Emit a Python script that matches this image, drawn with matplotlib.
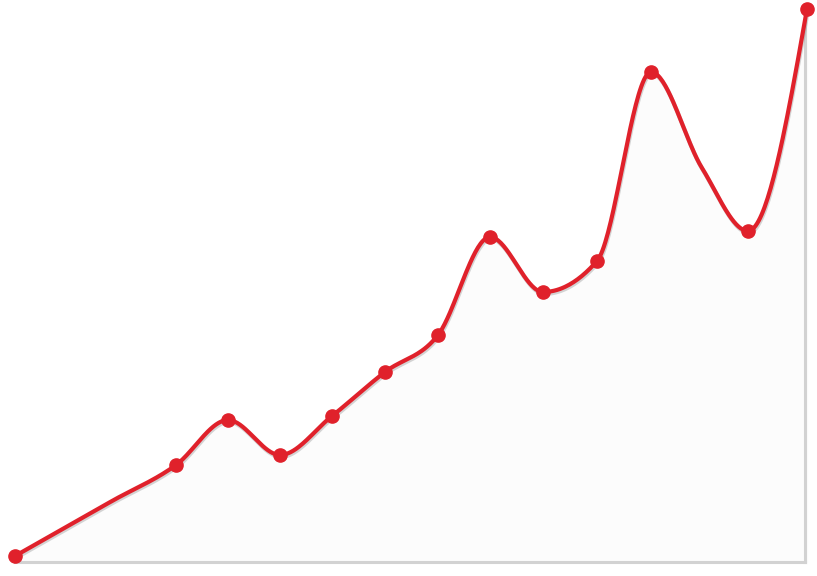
import numpy as np
import matplotlib
matplotlib.use('Agg')
import matplotlib.pyplot as plt
import matplotlib.patheffects as pe

# positions along the x axis and values (baseline = 0)
xs = [15, 112, 176, 228, 280, 332, 385, 438, 490, 543, 597, 651, 702, 748, 807]
vals = [6, 61, 97, 142, 107, 146, 190, 227, 325, 270, 301, 490, 394, 331, 553]
has_marker = [True, False, True, True, True, True, True, True, True, True, True, True, False, True, True]

RED = '#e0212b'
GRAY = '#d2d2d2'


def monotone(x, y, n=40):
    # d3-style monotone cubic between the given points
    x = np.asarray(x, float)
    y = np.asarray(y, float)
    h = np.diff(x)
    s = np.diff(y) / h
    m = np.zeros(len(x))
    for i in range(1, len(x) - 1):
        p = (s[i - 1] * h[i] + s[i] * h[i - 1]) / (h[i - 1] + h[i])
        m[i] = (np.sign(s[i - 1]) + np.sign(s[i])) * min(abs(s[i - 1]), abs(s[i]), 0.5 * abs(p))
    m[0] = (3 * s[0] - m[1]) / 2
    m[-1] = (3 * s[-1] - m[-2]) / 2
    px, py = [], []
    for i in range(len(x) - 1):
        t = np.linspace(0, 1, n)
        dx = h[i] / 3
        p0 = (x[i], y[i])
        p1 = (x[i] + dx, y[i] + dx * m[i])
        p2 = (x[i + 1] - dx, y[i + 1] - dx * m[i + 1])
        p3 = (x[i + 1], y[i + 1])
        bx = (1 - t) ** 3 * p0[0] + 3 * (1 - t) ** 2 * t * p1[0] + 3 * (1 - t) * t ** 2 * p2[0] + t ** 3 * p3[0]
        by = (1 - t) ** 3 * p0[1] + 3 * (1 - t) ** 2 * t * p1[1] + 3 * (1 - t) * t ** 2 * p2[1] + t ** 3 * p3[1]
        px.extend(bx)
        py.extend(by)
    return np.array(px), np.array(py)


fig = plt.figure(figsize=(8.17, 5.76), dpi=100)
ax = fig.add_axes([0, 0, 1, 1])
ax.set_xlim(0, 817)
ax.set_ylim(-14, 562)  # baseline at pixel row 562
ax.axis('off')

cx, cy = monotone(xs, vals)
ax.fill_between(cx, 0, cy, color='#fcfcfc', zorder=1)
ax.plot([xs[0], xs[-1] - 2], [0, 0], color=GRAY, lw=2.2, zorder=2)
ax.plot([xs[-1] - 2, xs[-1] - 2], [0, vals[-1] - 8], color=GRAY, lw=2.2, zorder=2)

ax.plot(cx, cy, color=RED, lw=3.0, solid_capstyle='round', zorder=3,
        path_effects=[pe.SimpleLineShadow(offset=(0.6, -1.4), shadow_color='#888888', alpha=0.35),
                      pe.Normal()])
mx = [x for x, k in zip(xs, has_marker) if k]
my = [v for v, k in zip(vals, has_marker) if k]
ax.plot(mx, my, 'o', color=RED, markersize=9.5, zorder=4)

fig.savefig('out.png', dpi=100)
